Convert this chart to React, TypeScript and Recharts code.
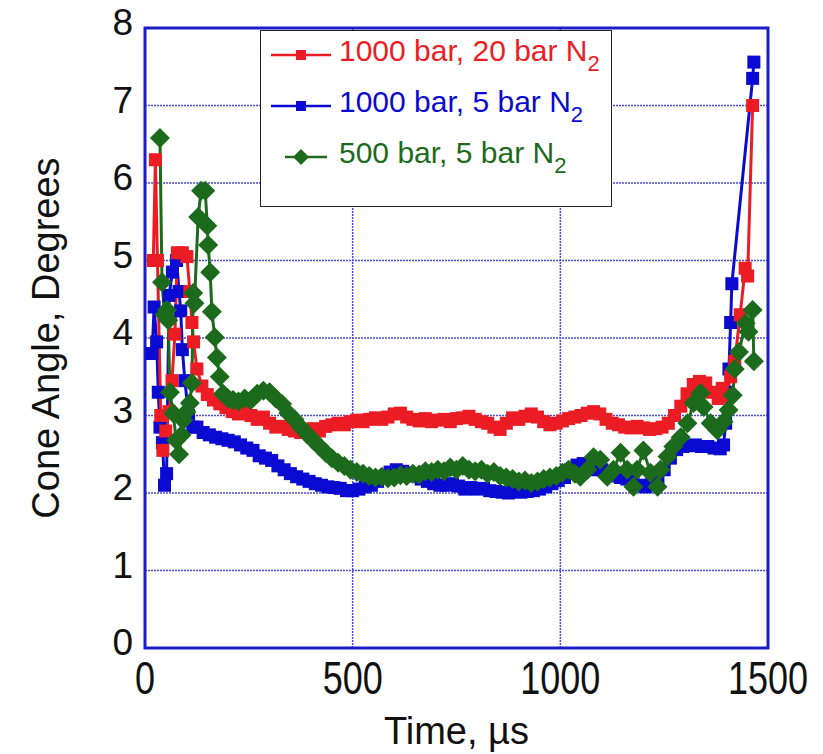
import React from "react"
import { LineChart, Line, XAxis, YAxis, CartesianGrid, ReferenceArea } from "recharts"

// 1000 bar injection, 20 bar N2
const redTime = [20, 25, 30, 38, 43, 50, 58, 65, 72, 78, 90, 101, 108, 113, 117, 125, 137, 150, 165, 180, 195, 210, 225, 240, 255, 270, 285, 300, 315, 330, 345, 360, 375, 390, 405, 420, 435, 450, 465, 480, 495, 510, 525, 540, 555, 570, 585, 600, 615, 630, 645, 660, 675, 690, 705, 720, 735, 750, 765, 780, 795, 810, 825, 840, 855, 870, 885, 900, 915, 930, 945, 960, 975, 990, 1005, 1020, 1035, 1050, 1065, 1080, 1095, 1110, 1125, 1140, 1155, 1170, 1185, 1200, 1215, 1230, 1245, 1260, 1275, 1290, 1305, 1320, 1335, 1350, 1365, 1380, 1390, 1400, 1410, 1420, 1433, 1445, 1451, 1463]
const redAngle = [5.0, 6.3, 5.0, 3.0, 2.55, 2.8, 3.05, 3.45, 4.05, 5.1, 5.1, 5.05, 4.6, 4.2, 3.95, 3.6, 3.38, 3.27, 3.2, 3.15, 3.1, 3.05, 3.02, 3.08, 3.0, 2.95, 2.98, 2.9, 2.85, 2.86, 2.82, 2.8, 2.78, 2.8, 2.83, 2.8, 2.86, 2.88, 2.9, 2.88, 2.92, 2.94, 2.92, 2.95, 2.97, 2.95, 2.98, 3.02, 3.03, 2.98, 2.95, 2.93, 2.96, 2.92, 2.94, 2.95, 2.92, 2.96, 2.97, 2.99, 2.95, 2.92, 2.9, 2.85, 2.82, 2.9, 2.97, 2.95, 2.99, 3.02, 2.98, 2.92, 2.88, 2.9, 2.93, 2.96, 2.98, 3.0, 3.03, 3.05, 3.02, 2.95, 2.9, 2.88, 2.85, 2.84, 2.86, 2.84, 2.82, 2.83, 2.85, 2.9, 3.0, 3.12, 3.28, 3.4, 3.44, 3.42, 3.3, 3.22, 3.35, 3.25, 3.5, 3.7, 4.3, 4.9, 4.8, 7.0]

// 1000 bar injection, 5 bar N2
const blueTime = [17, 22, 28, 32, 36, 42, 47, 52, 58, 66, 76, 82, 86, 90, 96, 105, 115, 125, 140, 155, 170, 185, 200, 215, 230, 245, 260, 275, 290, 305, 320, 335, 350, 365, 380, 395, 410, 425, 440, 455, 470, 485, 500, 515, 530, 545, 560, 575, 590, 605, 620, 635, 650, 665, 680, 695, 710, 725, 740, 755, 770, 785, 800, 815, 830, 845, 860, 875, 890, 905, 920, 935, 950, 965, 980, 995, 1010, 1025, 1040, 1055, 1070, 1085, 1100, 1115, 1130, 1145, 1160, 1175, 1190, 1205, 1220, 1235, 1250, 1265, 1280, 1295, 1310, 1325, 1340, 1355, 1370, 1385, 1393, 1398, 1402, 1406, 1410, 1413, 1463, 1466]
const blueAngle = [3.8, 4.4, 3.95, 3.3, 2.85, 2.65, 2.1, 2.25, 4.55, 4.85, 5.0, 4.6, 4.35, 3.85, 3.45, 3.0, 2.85, 2.85, 2.78, 2.75, 2.72, 2.7, 2.68, 2.66, 2.62, 2.58, 2.55, 2.48, 2.45, 2.42, 2.35, 2.3, 2.25, 2.21, 2.18, 2.15, 2.12, 2.1, 2.08, 2.07, 2.06, 2.03, 2.03, 2.05, 2.08, 2.1, 2.15, 2.2, 2.27, 2.3, 2.28, 2.26, 2.22, 2.18, 2.15, 2.12, 2.1, 2.1, 2.12, 2.09, 2.05, 2.07, 2.05, 2.06, 2.03, 2.02, 2.01, 2.0, 2.02, 2.01, 2.02, 2.03, 2.05, 2.08, 2.12, 2.16, 2.2, 2.3, 2.36, 2.38, 2.35, 2.3, 2.3, 2.26, 2.22, 2.2, 2.18, 2.15, 2.1, 2.08, 2.12, 2.2, 2.3, 2.45, 2.56, 2.6, 2.61, 2.62, 2.6, 2.6, 2.58, 2.57, 2.62, 2.9, 3.3, 3.6, 4.2, 4.7, 7.35, 7.56]

// 500 bar injection, 5 bar N2
const greenTime = [36, 41, 47, 53, 56, 60, 68, 75, 82, 88, 92, 100, 108, 113, 116, 119, 128, 135, 145, 150, 152, 157, 161, 168, 173, 180, 188, 200, 212, 225, 240, 255, 270, 285, 300, 315, 330, 345, 360, 375, 390, 405, 420, 435, 450, 465, 480, 495, 510, 525, 540, 555, 570, 585, 600, 615, 630, 645, 660, 675, 690, 705, 720, 735, 750, 765, 780, 795, 810, 825, 840, 855, 870, 885, 900, 915, 930, 945, 960, 975, 990, 1005, 1020, 1035, 1048, 1065, 1080, 1096, 1113, 1128, 1145, 1161, 1176, 1185, 1200, 1217, 1234, 1241, 1258, 1272, 1290, 1306, 1321, 1338, 1345, 1362, 1378, 1393, 1405, 1415, 1420, 1430, 1446, 1453, 1463, 1466]
const greenAngle = [6.58, 4.72, 4.3, 4.36, 4.23, 3.3, 3.03, 2.68, 2.5, 2.75, 2.94, 3.05, 3.16, 3.42, 4.58, 4.45, 5.56, 5.9, 5.9, 5.45, 5.2, 4.85, 4.34, 4.01, 3.75, 3.5, 3.28, 3.22, 3.2, 3.18, 3.22, 3.2, 3.28, 3.32, 3.3, 3.22, 3.15, 3.03, 2.95, 2.85, 2.76, 2.68, 2.6, 2.52, 2.45, 2.39, 2.35, 2.3, 2.27, 2.25, 2.22, 2.2, 2.21, 2.19, 2.2, 2.23, 2.22, 2.25, 2.24, 2.28, 2.27, 2.3, 2.28, 2.33, 2.3, 2.35, 2.3, 2.28, 2.3, 2.25, 2.27, 2.22, 2.2, 2.18, 2.15, 2.16, 2.13, 2.15, 2.18, 2.2, 2.22, 2.26, 2.3, 2.25, 2.21, 2.3, 2.46, 2.43, 2.21, 2.3, 2.52, 2.3, 2.08, 2.3, 2.55, 2.26, 2.08, 2.3, 2.47, 2.6, 2.72, 2.9, 3.16, 3.29, 3.11, 2.9, 2.81, 2.92, 3.07, 3.26, 3.6, 3.82, 4.19, 4.08, 4.36, 3.7]

const xTicks = [0, 500, 1000, 1500]
const yTicks = [0, 1, 2, 3, 4, 5, 6, 7, 8]

const RED = "#ec1c24"
const BLUE = "#0a0ad2"
const GREEN = "#1c6b1c"
const FRAME = "#1c1cc8"
const FONT = '"Liberation Sans", Arial, sans-serif'

const toPoints = (time: number[], angle: number[]) => time.map((t, i) => ({ t, v: angle[i] }))

const redData = toPoints(redTime, redAngle)
const blueData = toPoints(blueTime, blueAngle)
const greenData = toPoints(greenTime, greenAngle)

const squareDot = (color: string, size: number) => (props: any) => {
  const { cx, cy, index } = props
  return <rect key={`sq-${color}-${index}`} x={cx - size / 2} y={cy - size / 2} width={size} height={size} fill={color} />
}

const diamondDot = (color: string, r: number) => (props: any) => {
  const { cx, cy, index } = props
  return (
    <polygon
      key={`dm-${index}`}
      points={`${cx},${cy - r} ${cx + r},${cy} ${cx},${cy + r} ${cx - r},${cy}`}
      fill={color}
    />
  )
}

const XTick = (props: any) => {
  const { x, y, payload } = props
  return (
    <g transform={`translate(${x},${y + 21}) scale(1,1.3)`}>
      <text textAnchor="middle" dy="0.36em" fontSize={36} fontFamily={FONT} fill="#111">
        {payload.value}
      </text>
    </g>
  )
}

const YTick = (props: any) => {
  const { x, y, payload } = props
  return (
    <text x={x} y={y - 6} textAnchor="end" dy="0.36em" fontSize={37} fontFamily={FONT} fill="#111">
      {payload.value}
    </text>
  )
}

const legendItems = [
  { name: "1000 bar, 20 bar N", color: RED, marker: "square" },
  { name: "1000 bar, 5 bar N", color: BLUE, marker: "square" },
  { name: "500 bar, 5 bar N", color: GREEN, marker: "diamond" },
]

function ChartLegend() {
  return (
    <div
      style={{
        position: "absolute",
        left: 260,
        top: 30,
        width: 352,
        height: 177,
        border: "1.5px solid #222",
        background: "#fff",
        fontFamily: FONT,
        boxSizing: "border-box",
      }}
    >
      {legendItems.map((item, i) => (
        <div
          key={item.name}
          style={{ position: "absolute", left: 8, top: 2 + i * 51, height: 44, display: "flex", alignItems: "center" }}
        >
          <svg width={66} height={20} style={{ marginRight: 4 }}>
            {item.marker === "square" ? (
              <>
                <line x1={2} y1={10} x2={62} y2={10} stroke={item.color} strokeWidth={2.5} />
                <rect x={27} y={5} width={10} height={10} fill={item.color} />
              </>
            ) : (
              <>
                <line x1={16} y1={10} x2={58} y2={10} stroke={item.color} strokeWidth={2.5} />
                <polygon points="32,2 40,10 32,18 24,10" fill={item.color} />
              </>
            )}
          </svg>
          <span style={{ color: item.color, fontSize: 30, whiteSpace: "nowrap" }}>
            {item.name}
            <sub style={{ fontSize: 22, verticalAlign: "-0.45em" }}>2</sub>
          </span>
        </div>
      ))}
    </div>
  )
}

export default function App() {
  return (
    <div style={{ position: "absolute", left: 0, top: 0, width: 823, height: 754, background: "#fff" }}>
      <LineChart width={823} height={754} margin={{ top: 28, right: 55, bottom: 6, left: 0 }}>
        <CartesianGrid stroke="#4a4ae0" strokeDasharray="2 1" strokeWidth={1.5} horizontalValues={yTicks} verticalValues={xTicks} />
        <XAxis
          type="number"
          dataKey="t"
          domain={[0, 1500]}
          ticks={xTicks}
          tick={<XTick />}
          tickLine={false}
          axisLine={false}
          height={100}
          label={{ value: "Time, \u00b5s", position: "insideBottom", offset: 4, fontSize: 38, fontFamily: FONT, fill: "#111" }}
        />
        <YAxis
          type="number"
          domain={[0, 8]}
          ticks={yTicks}
          tick={<YTick />}
          tickLine={false}
          tickSize={0}
          tickMargin={12}
          axisLine={false}
          width={145}
          label={{
            value: "Cone Angle, Degrees",
            angle: -90,
            position: "insideLeft",
            offset: 46,
            style: { textAnchor: "middle", fontSize: 38, fontFamily: FONT, fill: "#111" },
          }}
        />
        <ReferenceArea x1={0} x2={1500} y1={0} y2={8} fill="none" stroke={FRAME} strokeWidth={3} ifOverflow="visible" />
        <Line data={blueData} dataKey="v" type="linear" stroke={BLUE} strokeWidth={3} dot={squareDot(BLUE, 13)} isAnimationActive={false} />
        <Line data={redData} dataKey="v" type="linear" stroke={RED} strokeWidth={3} dot={squareDot(RED, 13)} isAnimationActive={false} />
        <Line data={greenData} dataKey="v" type="linear" stroke={GREEN} strokeWidth={3} dot={diamondDot(GREEN, 10)} isAnimationActive={false} />
      </LineChart>
      <ChartLegend />
    </div>
  )
}
